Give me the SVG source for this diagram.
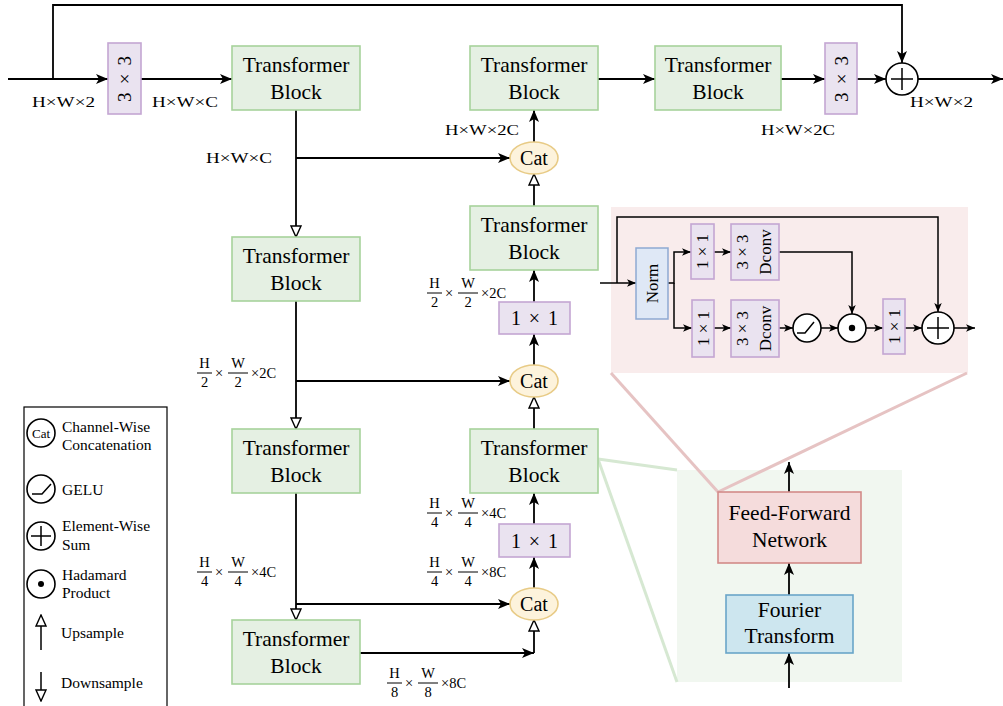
<svg xmlns="http://www.w3.org/2000/svg" width="1003" height="706" viewBox="0 0 1003 706">
<defs>
<style>
text{fill:#000;font-family:"Liberation Serif","Times New Roman",serif}
.tb{font-size:21.5px;text-anchor:middle}
.lab{font-size:15.5px}
.fr{font-size:14.5px;text-anchor:middle}
.frs{font-size:14.5px}
.leg{font-size:15.5px}
.green{fill:#e5f0e3;stroke:#a7d39b;stroke-width:1.6}
.purple{fill:#eae3f0;stroke:#c4a6d3;stroke-width:1.6}
.cat{fill:#fdf3dc;stroke:#e8cb86;stroke-width:1.6}
.ln{fill:none;stroke:#000;stroke-width:1.8}
.sl{fill:none;stroke:#000;stroke-width:1.5}
.bar{stroke:#000;stroke-width:1}
.circ{fill:#fff;stroke:#000;stroke-width:1.6}
</style>
<marker id="a" viewBox="0 0 12 10" refX="12" refY="5" markerWidth="12" markerHeight="10" markerUnits="userSpaceOnUse" orient="auto"><path d="M0,0 L12,5 L0,10 L3,5 Z" fill="#000"/></marker>
<marker id="as" viewBox="0 0 12 10" refX="12" refY="5" markerWidth="9" markerHeight="8" markerUnits="userSpaceOnUse" orient="auto"><path d="M0,0 L12,5 L0,10 L3,5 Z" fill="#000"/></marker>
<marker id="h" viewBox="0 0 13 12" refX="12" refY="6" markerWidth="13" markerHeight="12" markerUnits="userSpaceOnUse" orient="auto"><path d="M1,1 L12,6 L1,11 Z" fill="#fff" stroke="#000" stroke-width="1.4"/></marker>
</defs>

<g id="inset-bg">
<rect x="611" y="207" width="357" height="166" fill="#f9ecec"/>
<rect x="677" y="470" width="225" height="212" fill="#f1f7f0"/>
<line x1="598" y1="459" x2="677" y2="470" stroke="#d6e8d2" stroke-width="3"/>
<line x1="598" y1="459" x2="677" y2="682" stroke="#d6e8d2" stroke-width="3"/>
<line x1="611" y1="373" x2="718" y2="492" stroke="#e6c3c3" stroke-width="3"/>
<line x1="967" y1="373" x2="718" y2="492" stroke="#e6c3c3" stroke-width="3"/>
</g>

<g id="connectors">
<path class="ln" d="M8,79 L108,79" marker-end="url(#a)"/>
<path class="ln" d="M53,79 L53,5 L902,5 L902,63" marker-end="url(#a)"/>
<path class="ln" d="M141,79 L232,79" marker-end="url(#a)"/>
<path class="ln" d="M598,79 L655,79" marker-end="url(#a)"/>
<path class="ln" d="M781,79 L825,79" marker-end="url(#a)"/>
<path class="ln" d="M857,79 L886,79" marker-end="url(#a)"/>
<path class="ln" d="M918,79 L1003,79" marker-end="url(#a)"/>
<path class="ln" d="M296,110 L296,237" marker-end="url(#h)"/>
<path class="ln" d="M296,158 L510,158" marker-end="url(#a)"/>
<path class="ln" d="M296,301 L296,429" marker-end="url(#h)"/>
<path class="ln" d="M296,381 L510,381" marker-end="url(#a)"/>
<path class="ln" d="M296,493 L296,620" marker-end="url(#h)"/>
<path class="ln" d="M296,604 L510,604" marker-end="url(#a)"/>
<path class="ln" d="M360,653 L534,653" marker-end="url(#a)"/>
<path class="ln" d="M534,653 L534,620" marker-end="url(#h)"/>
<path class="ln" d="M534,588 L534,557" marker-end="url(#a)"/>
<path class="ln" d="M534,524 L534,493" marker-end="url(#a)"/>
<path class="ln" d="M534,429 L534,397" marker-end="url(#h)"/>
<path class="ln" d="M534,365 L534,334" marker-end="url(#a)"/>
<path class="ln" d="M534,302 L534,270" marker-end="url(#a)"/>
<path class="ln" d="M534,206 L534,174" marker-end="url(#h)"/>
<path class="ln" d="M534,142 L534,110" marker-end="url(#a)"/>
<path class="sl" d="M600,283 L636,283" marker-end="url(#as)"/>
<path class="sl" d="M617,283 L617,217 L938,217 L938,312" marker-end="url(#as)"/>
<path class="sl" d="M668,283 L674,283 L674,252 L691,252" marker-end="url(#as)"/>
<path class="sl" d="M674,283 L674,328 L692,328" marker-end="url(#as)"/>
<path class="sl" d="M714,252 L731,252" marker-end="url(#as)"/>
<path class="sl" d="M779,252 L852,252 L852,314" marker-end="url(#as)"/>
<path class="sl" d="M714,328 L731,328" marker-end="url(#as)"/>
<path class="sl" d="M779,328 L793,328" marker-end="url(#as)"/>
<path class="sl" d="M821,328 L838,328" marker-end="url(#as)"/>
<path class="sl" d="M866,328 L883,328" marker-end="url(#as)"/>
<path class="sl" d="M905,328 L922,328" marker-end="url(#as)"/>
<path class="sl" d="M954,328 L975,328" marker-end="url(#as)"/>
<path class="ln" d="M789,688 L789,653" marker-end="url(#a)"/>
<path class="ln" d="M789,595 L789,563" marker-end="url(#a)"/>
<path class="ln" d="M789,492 L789,462" marker-end="url(#a)"/>
</g>

<g id="conv-in"><rect class="purple" x="108" y="43" width="33" height="71"/><text transform="translate(131,79) rotate(-90)" font-size="19" text-anchor="middle" textLength="46">3 × 3</text></g>
<g id="tb-l1"><rect class="green" x="232" y="46" width="128" height="64"/><text class="tb" x="296" y="72">Transformer</text><text class="tb" x="296" y="99">Block</text></g>
<g id="tb-r1"><rect class="green" x="470" y="46" width="128" height="64"/><text class="tb" x="534" y="72">Transformer</text><text class="tb" x="534" y="99">Block</text></g>
<g id="tb-out"><rect class="green" x="655" y="46" width="126" height="64"/><text class="tb" x="718" y="72">Transformer</text><text class="tb" x="718" y="99">Block</text></g>
<g id="conv-out"><rect class="purple" x="825" y="43" width="32" height="71"/><text transform="translate(848,79) rotate(-90)" font-size="19" text-anchor="middle" textLength="46">3 × 3</text></g>
<g id="sum-out"><circle class="circ" cx="902" cy="79" r="16"/><path class="sl" d="M891,79 H913 M902,68 V90"/></g>

<g id="tb-l2"><rect class="green" x="232" y="237" width="128" height="64"/><text class="tb" x="296" y="263">Transformer</text><text class="tb" x="296" y="290">Block</text></g>
<g id="tb-l3"><rect class="green" x="232" y="429" width="128" height="64"/><text class="tb" x="296" y="455">Transformer</text><text class="tb" x="296" y="482">Block</text></g>
<g id="tb-l4"><rect class="green" x="232" y="620" width="128" height="64"/><text class="tb" x="296" y="646">Transformer</text><text class="tb" x="296" y="673">Block</text></g>

<g id="cat1"><ellipse class="cat" cx="534" cy="158" rx="24" ry="16"/><text x="534" y="165" font-size="20" text-anchor="middle">Cat</text></g>
<g id="tb-r2"><rect class="green" x="470" y="206" width="128" height="64"/><text class="tb" x="534" y="232">Transformer</text><text class="tb" x="534" y="259">Block</text></g>
<g id="c11-1"><rect class="purple" x="499" y="302" width="71" height="32"/><text x="534.5" y="325" font-size="20" text-anchor="middle" textLength="47">1 × 1</text></g>
<g id="cat2"><ellipse class="cat" cx="534" cy="381" rx="24" ry="16"/><text x="534" y="388" font-size="20" text-anchor="middle">Cat</text></g>
<g id="tb-r3"><rect class="green" x="470" y="429" width="128" height="64"/><text class="tb" x="534" y="455">Transformer</text><text class="tb" x="534" y="482">Block</text></g>
<g id="c11-2"><rect class="purple" x="499" y="524" width="71" height="33"/><text x="534.5" y="548" font-size="20" text-anchor="middle" textLength="47">1 × 1</text></g>
<g id="cat3"><ellipse class="cat" cx="534" cy="604" rx="24" ry="16"/><text x="534" y="611" font-size="20" text-anchor="middle">Cat</text></g>

<g id="labels">
<text class="lab" x="32" y="107" textLength="63" lengthAdjust="spacingAndGlyphs">H×W×2</text>
<text class="lab" x="152" y="107" textLength="66" lengthAdjust="spacingAndGlyphs">H×W×C</text>
<text class="lab" x="206" y="163" textLength="66" lengthAdjust="spacingAndGlyphs">H×W×C</text>
<text class="lab" x="445" y="135" textLength="74" lengthAdjust="spacingAndGlyphs">H×W×2C</text>
<text class="lab" x="761" y="135" textLength="74" lengthAdjust="spacingAndGlyphs">H×W×2C</text>
<text class="lab" x="910" y="107" textLength="63" lengthAdjust="spacingAndGlyphs">H×W×2</text>
<g transform="translate(427,293)"><text class="fr" x="7.5" y="-5">H</text><line class="bar" x1="0" y1="0" x2="15" y2="0"/><text class="fr" x="7.5" y="14">2</text><text class="fr" x="22" y="5">×</text><text class="fr" x="41" y="-5">W</text><line class="bar" x1="31" y1="0" x2="51" y2="0"/><text class="fr" x="41" y="14">2</text><text class="frs" x="54" y="5">×2C</text></g>
<g transform="translate(197,373)"><text class="fr" x="7.5" y="-5">H</text><line class="bar" x1="0" y1="0" x2="15" y2="0"/><text class="fr" x="7.5" y="14">2</text><text class="fr" x="22" y="5">×</text><text class="fr" x="41" y="-5">W</text><line class="bar" x1="31" y1="0" x2="51" y2="0"/><text class="fr" x="41" y="14">2</text><text class="frs" x="54" y="5">×2C</text></g>
<g transform="translate(427,513)"><text class="fr" x="7.5" y="-5">H</text><line class="bar" x1="0" y1="0" x2="15" y2="0"/><text class="fr" x="7.5" y="14">4</text><text class="fr" x="22" y="5">×</text><text class="fr" x="41" y="-5">W</text><line class="bar" x1="31" y1="0" x2="51" y2="0"/><text class="fr" x="41" y="14">4</text><text class="frs" x="54" y="5">×4C</text></g>
<g transform="translate(427,572)"><text class="fr" x="7.5" y="-5">H</text><line class="bar" x1="0" y1="0" x2="15" y2="0"/><text class="fr" x="7.5" y="14">4</text><text class="fr" x="22" y="5">×</text><text class="fr" x="41" y="-5">W</text><line class="bar" x1="31" y1="0" x2="51" y2="0"/><text class="fr" x="41" y="14">4</text><text class="frs" x="54" y="5">×8C</text></g>
<g transform="translate(197,572)"><text class="fr" x="7.5" y="-5">H</text><line class="bar" x1="0" y1="0" x2="15" y2="0"/><text class="fr" x="7.5" y="14">4</text><text class="fr" x="22" y="5">×</text><text class="fr" x="41" y="-5">W</text><line class="bar" x1="31" y1="0" x2="51" y2="0"/><text class="fr" x="41" y="14">4</text><text class="frs" x="54" y="5">×4C</text></g>
<g transform="translate(387,683)"><text class="fr" x="7.5" y="-5">H</text><line class="bar" x1="0" y1="0" x2="15" y2="0"/><text class="fr" x="7.5" y="14">8</text><text class="fr" x="22" y="5">×</text><text class="fr" x="41" y="-5">W</text><line class="bar" x1="31" y1="0" x2="51" y2="0"/><text class="fr" x="41" y="14">8</text><text class="frs" x="54" y="5">×8C</text></g>
</g>

<g id="norm"><rect x="636" y="248" width="32" height="71" fill="#dfe8f6" stroke="#8ea9d2" stroke-width="1.5"/><text transform="translate(658,283.5) rotate(-90)" font-size="17" text-anchor="middle">Norm</text></g>
<g id="i-c11a"><rect class="purple" x="691" y="224" width="23" height="55"/><text transform="translate(708,251.5) rotate(-90)" font-size="17" text-anchor="middle">1 × 1</text></g>
<g id="i-dc-a"><rect class="purple" x="731" y="224" width="48" height="56"/><text transform="translate(748,252) rotate(-90)" font-size="17" text-anchor="middle">3 × 3</text><text transform="translate(771,252) rotate(-90)" font-size="17" text-anchor="middle">Dconv</text></g>
<g id="i-c11b"><rect class="purple" x="692" y="300" width="22" height="57"/><text transform="translate(709,328.5) rotate(-90)" font-size="17" text-anchor="middle">1 × 1</text></g>
<g id="i-dc-b"><rect class="purple" x="731" y="300" width="48" height="57"/><text transform="translate(748,328.5) rotate(-90)" font-size="17" text-anchor="middle">3 × 3</text><text transform="translate(771,328.5) rotate(-90)" font-size="17" text-anchor="middle">Dconv</text></g>
<g id="i-gelu"><circle class="circ" cx="807" cy="328" r="14"/><path class="sl" d="M797,333 L805,333 L814,322"/></g>
<g id="i-had"><circle class="circ" cx="852" cy="328" r="14"/><circle cx="852" cy="328" r="3.2" fill="#000"/></g>
<g id="i-c11c"><rect class="purple" x="883" y="299" width="22" height="55"/><text transform="translate(900,326.5) rotate(-90)" font-size="17" text-anchor="middle">1 × 1</text></g>
<g id="i-sum"><circle class="circ" cx="938" cy="328" r="16"/><path class="sl" d="M927,328 H949 M938,317 V339"/></g>

<g id="ffn"><rect x="718" y="492" width="143" height="71" fill="#f5dcdc" stroke="#d38b89" stroke-width="1.6"/><text class="tb" x="789.5" y="520">Feed-Forward</text><text class="tb" x="789.5" y="547">Network</text></g>
<g id="fourier"><rect x="726" y="595" width="127" height="58" fill="#cde6ef" stroke="#6aa5c9" stroke-width="1.6"/><text class="tb" x="789.5" y="617">Fourier</text><text class="tb" x="789.5" y="643">Transform</text></g>

<g id="legend">
<rect x="24" y="407" width="143" height="305" fill="#fff" stroke="#000" stroke-width="1.2"/>
<circle class="circ" cx="41" cy="433" r="14"/><text x="41" y="438" font-size="13" text-anchor="middle">Cat</text>
<text class="leg" x="62" y="432">Channel-Wise</text><text class="leg" x="62" y="450">Concatenation</text>
<circle class="circ" cx="41" cy="489" r="14"/><path class="sl" d="M32,494 L42,494 L51,484"/>
<text class="leg" x="62" y="495">GELU</text>
<circle class="circ" cx="41" cy="536" r="14"/><path class="sl" d="M31,536 H51 M41,526 V546"/>
<text class="leg" x="62" y="531">Element-Wise</text><text class="leg" x="62" y="550">Sum</text>
<circle class="circ" cx="41" cy="584" r="14"/><circle cx="41" cy="584" r="3" fill="#000"/>
<text class="leg" x="62" y="580">Hadamard</text><text class="leg" x="62" y="598">Product</text>
<path class="sl" d="M41,650 L41,615" marker-end="url(#h)"/>
<text class="leg" x="61" y="638">Upsample</text>
<path class="sl" d="M41,672 L41,701" marker-end="url(#h)"/>
<text class="leg" x="61" y="688">Downsample</text>
</g>
</svg>
